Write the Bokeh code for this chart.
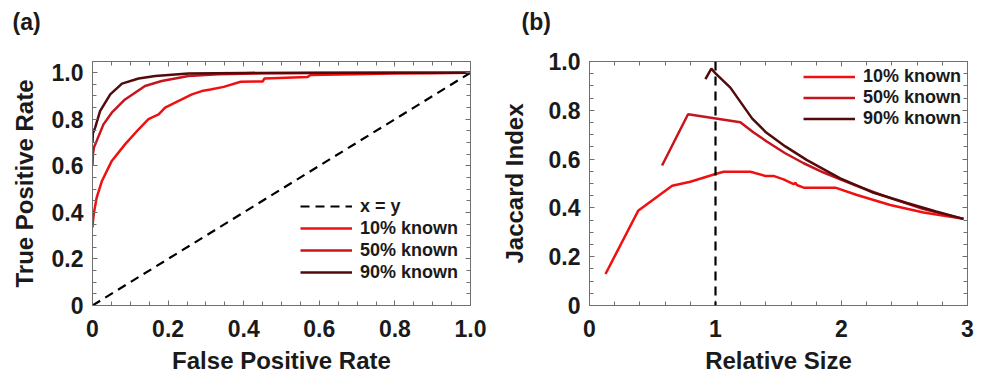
from bokeh.plotting import figure
from bokeh.layouts import row
from bokeh.models import (LinearAxis, FixedTicker, CustomJSTickFormatter, Legend,
                          LegendItem, Range1d, Span, CustomLabelingPolicy)
from bokeh.embed import file_html
from bokeh.resources import INLINE

# ---------------- data: panel (a) ROC curves ----------------
diag_x = [0.0, 1.0]
diag_y = [0.0, 1.0]

fpr_10 = [0, 0.001, 0.004, 0.011, 0.025, 0.051, 0.086, 0.122, 0.148, 0.175, 0.192,
          0.236, 0.263, 0.289, 0.312, 0.347, 0.392, 0.45, 0.455, 0.568, 0.577, 0.69,
          0.8, 0.9, 1.0]
tpr_10 = [0.335, 0.36, 0.40, 0.463, 0.535, 0.621, 0.692, 0.757, 0.80, 0.821, 0.85,
          0.885, 0.907, 0.921, 0.928, 0.939, 0.961, 0.962, 0.975, 0.981, 0.99, 0.993,
          0.996, 0.998, 1.0]

fpr_50 = [0, 0.001, 0.004, 0.011, 0.029, 0.051, 0.086, 0.139, 0.183, 0.254, 0.333,
          0.45, 0.6, 0.8, 1.0]
tpr_50 = [0.60, 0.649, 0.68, 0.707, 0.778, 0.828, 0.885, 0.943, 0.964, 0.986, 0.993,
          0.997, 0.999, 1.0, 1.0]

fpr_90 = [0, 0.001, 0.007, 0.02, 0.047, 0.078, 0.122, 0.166, 0.254, 0.4, 0.6, 1.0]
tpr_90 = [0.70, 0.74, 0.764, 0.835, 0.907, 0.953, 0.975, 0.986, 0.996, 0.999, 1.0, 1.0]

# ---------------- data: panel (b) Jaccard vs relative size ----------------
ref_size = 1.0

rs_10 = [0.127, 0.386, 0.656, 0.80, 1.0, 1.065, 1.277, 1.396, 1.46, 1.54, 1.62,
         1.635, 1.645, 1.70, 1.951, 2.123, 2.387, 2.651, 2.968]
jac_10 = [0.129, 0.388, 0.491, 0.507, 0.539, 0.548, 0.548, 0.531, 0.531, 0.517, 0.497,
          0.503, 0.494, 0.483, 0.483, 0.453, 0.412, 0.381, 0.355]

rs_50 = [0.576, 0.782, 1.197, 1.3, 1.41, 1.55, 1.7, 1.858, 2.0, 2.12, 2.39, 2.65, 2.968]
jac_50 = [0.574, 0.784, 0.751, 0.71, 0.671, 0.625, 0.583, 0.545, 0.515, 0.49, 0.44,
          0.395, 0.355]

rs_90 = [0.92, 0.967, 1.0, 1.118, 1.29, 1.4, 1.554, 1.726, 1.99, 2.255, 2.52, 2.75, 2.968]
jac_90 = [0.928, 0.971, 0.951, 0.893, 0.767, 0.71, 0.652, 0.596, 0.521, 0.462, 0.42,
          0.385, 0.355]

# ---------------- ticks / labels ----------------
a_xticks = [0, 0.2, 0.4, 0.6, 0.8, 1.0]
a_xminor = [i * 0.05 for i in range(21)]
a_yticks = [0, 0.2, 0.4, 0.6, 0.8, 1.0]
a_yminor = [i * 0.05 for i in range(22)]
b_xticks = [0, 1, 2, 3]
b_xminor = [i * 0.2 for i in range(16)]
b_yticks = [0, 0.2, 0.4, 0.6, 0.8, 1.0]
b_yminor = [i * 0.05 for i in range(21)]

labels = ["10% known", "50% known", "90% known"]
colors = ["#f01010", "#c8141c", "#520a0a"]

FONT = "Liberation Sans"
TXT = "#1a1a1a"
GREY = "#707070"

fmt_dec = CustomJSTickFormatter(code='return tick == 0 ? "0" : tick.toFixed(1);')
fmt_int = CustomJSTickFormatter(code='return tick.toFixed(0);')
no_labels = CustomLabelingPolicy(code="""
    for (const i of indices)
        indices.unset(i)
    return indices
""")


def style_axis(ax, ticks, minor, fmt, show):
    ax.ticker = FixedTicker(ticks=ticks, minor_ticks=minor)
    ax.formatter = fmt
    ax.axis_line_color = GREY
    ax.axis_line_width = 1
    ax.major_tick_line_color = GREY
    ax.minor_tick_line_color = GREY
    ax.major_tick_in = 5
    ax.major_tick_out = 0
    ax.minor_tick_in = 4
    ax.minor_tick_out = 0
    if show:
        ax.major_label_text_font = FONT
        ax.major_label_text_font_size = "23px"
        ax.major_label_text_font_style = "bold"
        ax.major_label_text_color = TXT
        ax.axis_label_text_font = FONT
        ax.axis_label_text_font_size = "24px"
        ax.axis_label_text_font_style = "bold"
        ax.axis_label_text_color = TXT
    else:
        ax.major_label_policy = no_labels
        ax.major_label_text_font_size = "0px"
        ax.major_label_standoff = 0


def make_fig(width, left, right, xr, yr, xt, xm, yt, ym, xfmt, yfmt, xlabel, ylabel,
             panel, title_offset, ylab_standoff):
    p = figure(width=width, height=376, x_range=Range1d(*xr), y_range=Range1d(*yr),
               output_backend="svg", toolbar_location=None,
               min_border_left=left, min_border_right=right,
               min_border_top=61, min_border_bottom=70, title=panel)
    p.xgrid.visible = False
    p.ygrid.visible = False
    p.outline_line_color = GREY
    p.background_fill_color = "white"
    p.border_fill_color = "white"

    xa = p.xaxis[0]
    ya = p.yaxis[0]
    style_axis(xa, xt, xm, xfmt, True)
    style_axis(ya, yt, ym, yfmt, True)
    xa.axis_label = xlabel
    ya.axis_label = ylabel
    xa.major_label_standoff = 14
    xa.axis_label_standoff = 7
    ya.major_label_standoff = 9
    ya.axis_label_standoff = ylab_standoff

    top = LinearAxis()
    style_axis(top, xt, xm, xfmt, False)
    p.add_layout(top, "above")
    rt = LinearAxis()
    style_axis(rt, yt, ym, yfmt, False)
    p.add_layout(rt, "right")

    p.title.align = "left"
    p.title.vertical_align = "top"
    p.title.offset = title_offset
    p.title.standoff = 17
    p.title.padding = dict(left=0, right=0, top=0, bottom=16)
    p.title.text_font = FONT
    p.title.text_font_size = "23px"
    p.title.text_font_style = "bold"
    p.title.text_color = TXT
    return p


def make_legend(items, loc, h):
    lg = Legend(items=items, location=loc)
    lg.glyph_width = 52
    lg.glyph_height = h
    lg.label_height = h
    lg.spacing = 0
    lg.padding = 0
    lg.margin = 0
    lg.label_standoff = 8
    lg.border_line_color = None
    lg.background_fill_alpha = 0
    lg.label_text_font = FONT
    lg.label_text_font_size = "18px"
    lg.label_text_font_style = "bold"
    lg.label_text_color = TXT
    return lg


# ---------------- panel (a) ----------------
pa = make_fig(488, 92, 18, (0, 1.0), (0, 1.048), a_xticks, a_xminor, a_yticks, a_yminor,
              fmt_dec, fmt_dec, "False Positive Rate", "True Positive Rate", "(a)", -80, 11)

r_diag = pa.line(diag_x, diag_y, line_color="black", line_width=2.2, line_dash="9 6")
ra = []
for xs, ys, c in zip([fpr_10, fpr_50, fpr_90], [tpr_10, tpr_50, tpr_90], colors):
    ra.append(pa.line(xs, ys, line_color=c, line_width=2.5))

items_a = [LegendItem(label="x = y", renderers=[r_diag])] + \
          [LegendItem(label=l, renderers=[r]) for l, r in zip(labels, ra)]
pa.add_layout(make_legend(items_a, (208, 22), 22))

# ---------------- panel (b) ----------------
pb = make_fig(496, 101, 17, (0, 3.0), (0, 1.0), b_xticks, b_xminor, b_yticks, b_yminor,
              fmt_int, fmt_dec, "Relative Size", "Jaccard Index", "(b)", -68, 18)

pb.add_layout(Span(location=ref_size, dimension="height", line_color="black",
                   line_width=2.2, line_dash="9 6"))
rb = []
for xs, ys, c in zip([rs_10, rs_50, rs_90], [jac_10, jac_50, jac_90], colors):
    rb.append(pb.line(xs, ys, line_color=c, line_width=2.5))

items_b = [LegendItem(label=l, renderers=[r]) for l, r in zip(labels, rb)]
pb.add_layout(make_legend(items_b, (214, 176), 21))

layout = row(pa, pb)
open("out.html", "w").write(file_html(layout, INLINE))
